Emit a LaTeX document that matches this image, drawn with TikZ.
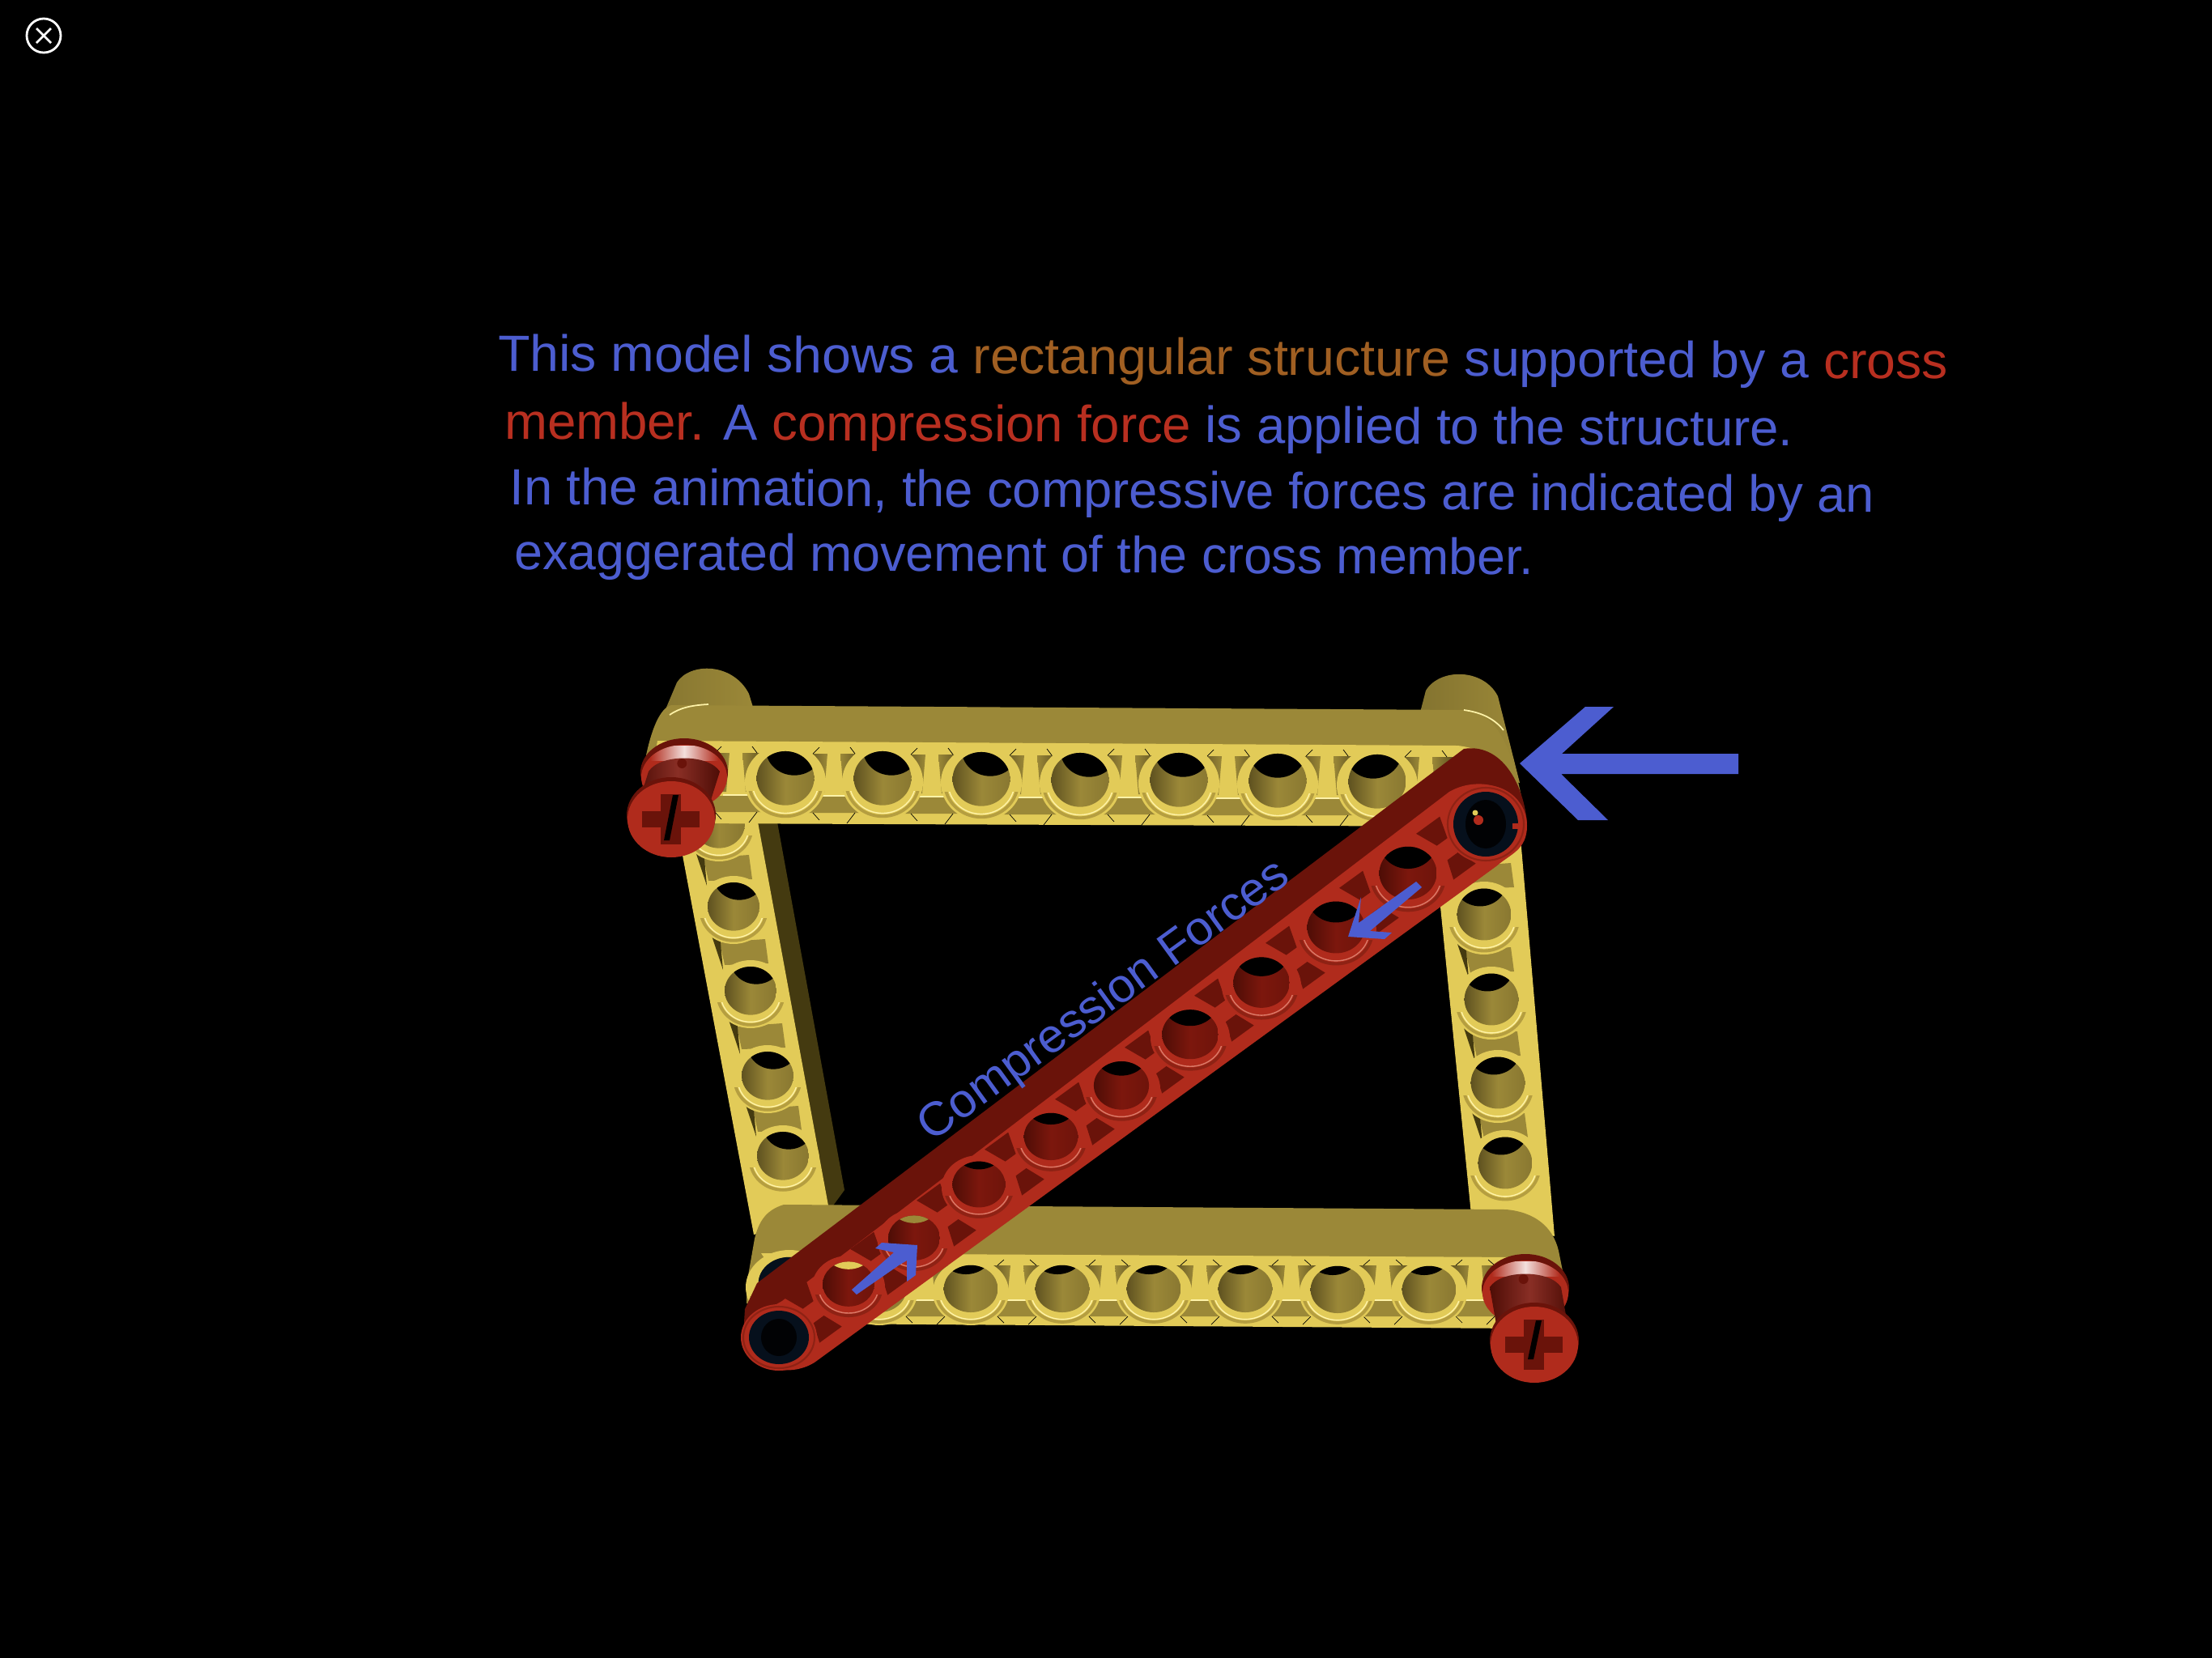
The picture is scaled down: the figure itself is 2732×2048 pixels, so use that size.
\documentclass[tikz,border=0pt]{standalone}
\usepackage{fontspec}
\usepackage{graphicx}
\setmainfont{Liberation Sans}
\usetikzlibrary{arrows.meta,positioning,calc}

\definecolor{textblue}{HTML}{4C5DD0}
\definecolor{textbrown}{HTML}{A05F22}
\definecolor{textred}{HTML}{B82F20}
\definecolor{yelrim}{HTML}{E2CB58}
\definecolor{yelwall}{HTML}{9B8838}
\definecolor{yeldeep}{HTML}{5F5220}
\definecolor{yelside}{HTML}{443A10}
\definecolor{yelgroove}{HTML}{B59E40}
\definecolor{yelglint}{HTML}{FFF3A8}
\definecolor{redrim}{HTML}{B02B1C}
\definecolor{redwall}{HTML}{7C170D}
\definecolor{reddeep}{HTML}{4E0D06}
\definecolor{redside}{HTML}{6A130A}
\definecolor{redgroove}{HTML}{8E2214}
\definecolor{redglint}{HTML}{DB7A68}
\definecolor{pinnavy}{HTML}{06101C}

\tikzset{
  captionline/.style={anchor=base west, inner sep=0pt, rotate=-0.32, font=\fontsize{17.9}{20}\selectfont},
  forcearrow/.style={fill=textblue},
  beamtick/.style={black, line width=.2pt},
}

\newcommand{\beamhole}[8]{%
  \fill[#8rim] (#1,#2) ellipse ({#3} and {#4});
  \begin{scope}
    \clip (#1-#3-2,#2+0.25*#4) rectangle (#1+#3+2,#2+#4+2);
    \draw[#8groove, line width=1.1pt] (#1,#2) ellipse ({0.9*#3} and {0.9*#4});
    \draw[#8glint, line width=.4pt] (#1,#2) ellipse ({0.82*#3} and {0.82*#4});
  \end{scope}
  \begin{scope}
    \clip (#1,#2-0.1*#4) ellipse ({0.71*#3} and {0.71*#4});
    \shade[left color=#8deep, right color=#8wall!70!#8deep, middle color=#8wall]
      (#1-0.71*#3,#2-#4) rectangle (#1+0.71*#3,#2+#4);
    \fill[#7] (#1+#5,#2-0.1*#4+#6) ellipse ({0.71*#3} and {0.71*#4});
  \end{scope}}

\begin{document}
\begin{tikzpicture}[x=0.01cm, y=-0.01cm]
  \useasboundingbox (0,0) rectangle (2732,2048);
  \fill[black] (0,0) rectangle (2732,2048);

  % close icon
  \draw[white, line width=0.8pt] (54,44) circle (21);
  \draw[white, line width=0.8pt] (45,35) -- (63,53) (63,35) -- (45,53);

  % side beams
  \fill[yelside] (930,1010) -- (959,1010) -- (1043,1470) -- (1021,1500) -- cycle;
  \fill[yelrim] (838,1030) -- (935,1010) -- (1025,1500) -- (931,1525) -- cycle;
  \fill[yelrim] (1767,1000) -- (1875,1000) -- (1920,1527) -- (1817,1500) -- cycle;
  \foreach \gx/\gy in {897/1072,917/1176,938/1280,958/1382,1838/1082,1838/1186,1846/1290,1855/1391}{
    \fill[yelwall] (\gx-28,\gy-12) -- (\gx+28,\gy-16) -- (\gx+32,\gy+14) -- (\gx-22,\gy+16) -- cycle;
    \fill[yelside] (\gx-38,\gy-20) -- (\gx-28,\gy-22) -- (\gx-24,\gy+22) -- cycle;
  }
  \foreach \hx/\hy/\dx in {888/1022/7,906/1124/7,927/1228/7,948/1333/7,967/1432/7}{
    \beamhole{\hx}{\hy}{45}{42}{\dx}{-38}{black}{yel}
  }
  \foreach \hx/\hy/\dx in {1833/1134/-5,1842/1239/-5,1850/1342/-5,1859/1441/-5}{
    \beamhole{\hx}{\hy}{47}{45}{\dx}{-42}{black}{yel}
  }

  % pegs behind the upper corners
  \shade[left color=yelwall!85!black, right color=yelwall] (798,933) -- (836,843)
    .. controls (852,818) and (905,818) .. (925,857) -- (932,880) -- (850,930) -- cycle;
  \shade[left color=yelwall!85!black, right color=yelwall] (1754,880) -- (1761,853)
    .. controls (1778,825) and (1832,825) .. (1850,860) -- (1877,967) -- (1800,950) -- cycle;

  % top beam
  \fill[yelwall] (829,871) -- (1808,877) .. controls (1848,880) and (1868,920) .. (1882,1000)
    -- (798,1000) -- (798,933) .. controls (805,900) and (815,875) .. (829,871) -- cycle;
  \fill[yelrim] (812,915) -- (1800,921) .. controls (1840,925) and (1870,950) .. (1880,1000)
    -- (1860,1021) -- (840,1017) -- (800,990) -- cycle;
  \draw[yelglint, line width=.5pt] (827,883) .. controls (840,874) and (855,871) .. (875,870);
  \draw[yelglint, line width=.5pt] (1808,877) .. controls (1830,880) and (1846,888) .. (1857,902);
  \foreach \hx/\hy in {909/966,1030/967,1151/968,1273/969,1394/969,1517/970,1639/970,1761/971}{
    \fill[yelwall] (\hx-44,\hy+17) -- (\hx+44,\hy+17) -- (\hx+38,\hy+37) -- (\hx-38,\hy+37) -- cycle;
    \draw[yelglint, line width=.5pt] (\hx-16,\hy+16) -- (\hx+16,\hy+16);
    \shade[left color=yeldeep, right color=yelwall] (\hx-34,\hy-36) -- (\hx-8,\hy-36) -- (\hx-12,\hy+12) -- (\hx-24,\hy+12) -- cycle;
    \shade[left color=yelwall, right color=yeldeep] (\hx+8,\hy-36) -- (\hx+34,\hy-36) -- (\hx+24,\hy+12) -- (\hx+12,\hy+12) -- cycle;
    \draw[beamtick] (\hx-26,\hy-36) -- (\hx-18,\hy-44) (\hx+20,\hy-44) -- (\hx+26,\hy-36);
    \draw[beamtick] (\hx-26,\hy+37) -- (\hx-18,\hy+46) (\hx+26,\hy+37) -- (\hx+16,\hy+50);
  }
  \foreach \hx/\hy/\dx in {970/966/11,1090/966/11,1212/967/11,1334/968/11,1456/968/5,1578/969/0,1701/970/-5}{
    \beamhole{\hx}{\hy}{50}{47}{\dx}{-37}{black}{yel}
  }

  % bottom beam
  \fill[yelwall] (968,1488) -- (1860,1494) .. controls (1895,1497) and (1918,1515) .. (1925,1545)
    -- (1934,1590) -- (1850,1610) -- (922,1610) -- (922,1587) -- (932,1530)
    .. controls (937,1510) and (945,1495) .. (968,1488) -- cycle;
  \fill[yelrim] (940,1548) -- (1880,1553) -- (1880,1641) -- (1000,1635) -- cycle;
  \foreach \hx in {1030,1143,1256,1369,1482,1595,1708,1822}{
    \fill[yelwall] (\hx-42,1607) -- (\hx+42,1607) -- (\hx+36,1626) -- (\hx-36,1626) -- cycle;
    \draw[yelglint, line width=.5pt] (\hx-16,1606) -- (\hx+16,1606);
    \shade[left color=yeldeep, right color=yelwall] (\hx-32,1563) -- (\hx-8,1563) -- (\hx-12,1606) -- (\hx-22,1606) -- cycle;
    \shade[left color=yelwall, right color=yeldeep] (\hx+8,1563) -- (\hx+32,1563) -- (\hx+22,1606) -- (\hx+12,1606) -- cycle;
    \draw[beamtick] (\hx-24,1563) -- (\hx-16,1556) (\hx+16,1556) -- (\hx+24,1563);
    \draw[beamtick] (\hx-24,1626) -- (\hx-16,1634) (\hx+24,1626) -- (\hx+14,1636);
  }
  \beamhole{975}{1590}{54}{46}{0}{0}{pinnavy}{yel}
  \foreach \hx/\hy in {1086/1596,1199/1596,1312/1596,1425/1596,1538/1596,1652/1597,1765/1597}{
    \beamhole{\hx}{\hy}{47}{41}{-6}{-47}{black}{yel}
  }

  % pins through the free corners
  \foreach \rx/\ry/\fx/\fy/\px/\py in {845/957/829/1012/-9/12,1884/1594/1895/1661/-8/4}{
    \fill[redside] (\rx,\ry-3) ellipse ({54} and {42});
    \fill[redrim] (\rx,\ry+3) ellipse ({53} and {40});
    \begin{scope}
      \clip (\rx,\ry+3) ellipse ({53} and {40});
      \shade[left color=redrim, right color=redrim, middle color=white!85!redrim]
        (\rx-42,\ry-36) rectangle (\rx+42,\ry-18);
    \end{scope}
    \shade[left color=reddeep, right color=reddeep, middle color=redwall!90!white]
      (\rx-44,\ry-4) .. controls (\rx-30,\ry-26) and (\rx+30,\ry-26) .. (\rx+44,\ry-4)
      -- (\fx+44,\fy-8) -- (\fx-44,\fy-8) -- cycle;
    \fill[redside] (\rx+\px*.3,\ry-14) circle (6);
    \fill[redside] (\fx,\fy-5) ellipse ({55} and {47});
    \fill[redrim] (\fx,\fy) ellipse ({54} and {47});
    \fill[redside] (\fx-36,\fy-10) rectangle (\fx+35,\fy+10);
    \fill[redside] (\fx-13,\fy-31) rectangle (\fx+12,\fy+31);
    \fill[black] (\fx+2,\fy-30) -- (\fx+9,\fy-30) -- (\fx+\px+7,\fy+\py+14) -- (\fx+\px,\fy+\py+14) -- cycle;
  }

  % cross member
  \fill[redside] (1808,925) .. controls (1850,918) and (1880,960) .. (1886,1015)
    -- (918,1650) -- (920,1617) -- (935,1585) -- cycle;
  \fill[redrim] (1790,978) .. controls (1830,955) and (1886,975) .. (1886,1020)
    .. controls (1886,1050) and (1865,1055) .. (1848,1070) -- (1010,1680)
    .. controls (985,1700) and (930,1700) .. (918,1650)
    .. controls (913,1630) and (935,1625) .. (966,1607) -- cycle;
  \foreach \gx/\gy in {1787/1048,1692/1115,1601/1183,1513/1248,1427/1312,1341/1376,1254/1438,1170/1501,1088/1561,1004/1620}{
    \begin{scope}[shift={(\gx,\gy)}, rotate=36]
      \fill[redside] (-20,-37) -- (16,-37) -- (8,-10) -- (-8,-10) -- cycle;
      \fill[redside] (-16,36) -- (18,36) -- (8,12) -- (-8,12) -- cycle;
    \end{scope}
  }
  \foreach \hx/\hy/\rw/\rh/\dy/\back in {1739/1083/50/46/-38/black,1650/1150/50/45/-38/black,1558/1218/49/44/-39/black,
      1470/1282/49/43/-41/black,1385/1345/48/42/-42/black,1298/1408/47/41/-44/black,1209/1467/46/40/-47/black,
      1129/1533/45/39/-46/yelwall,1048/1590/45/39/-46/yelrim}{
    \beamhole{\hx}{\hy}{\rw}{\rh}{0}{\dy}{\back}{red}
  }
  \foreach \hx/\hy/\rw/\rh in {1835/1018/50/48,962/1652/47/41}{
    \fill[redrim] (\hx,\hy) ellipse ({\rw} and {\rh});
    \draw[redgroove, line width=.6pt] (\hx,\hy) ellipse ({\rw-3} and {\rh-3});
    \fill[pinnavy] (\hx,\hy) ellipse ({\rw-10} and {\rh-8});
    \fill[black!85!pinnavy] (\hx,\hy) ellipse ({\rw-25} and {\rh-18});
  }
  \fill[redrim] (1826,1013) circle (6);
  \fill[yelrim] (1822,1004) circle (3.5);
  \fill[redrim] (1868,1017) rectangle (1875,1024);

  % force arrows
  \fill[forcearrow] (2147,931) -- (1929,931) -- (1993,873) -- (1958,873) -- (1877,943)
    -- (1949,1013) -- (1986,1013) -- (1928,956) -- (2147,956) -- cycle;
  \fill[forcearrow] (1749,1089) -- (1756,1096) -- (1692,1150) -- (1719,1152) -- (1710,1160)
    -- (1665,1157) -- (1681,1108) -- (1678,1140) -- cycle;
  \fill[forcearrow] (1052,1593) -- (1058,1599) -- (1110,1563) -- (1120,1557) -- (1120,1583)
    -- (1131,1575) -- (1133,1538) -- (1089,1535) -- (1081,1542) -- (1104,1547) -- cycle;

  % text
  \node[captionline] (lineone) at (615,458) {\resizebox{17.89cm}{\height}{\textcolor{textblue}{This model shows a} \textcolor{textbrown}{rectangular structure} \textcolor{textblue}{supported by a} \textcolor{textred}{cross}}};
  \node[captionline] (linetwo) at (623,542) {\resizebox{15.90cm}{\height}{\textcolor{textred}{member.} \textcolor{textblue}{A} \textcolor{textred}{compression force} \textcolor{textblue}{is applied to the structure.}}};
  \node[captionline] (linethree) at (629,623) {\resizebox{16.84cm}{\height}{\textcolor{textblue}{In the animation, the compressive forces are indicated by an}}};
  \node[captionline] (linefour) at (635,703) {\resizebox{12.58cm}{\height}{\textcolor{textblue}{exaggerated movement of the cross member.}}};
  \node[captionline, rotate=36.32] (forcelabel) at (1150,1412) {\resizebox{5.5cm}{0.93\height}{\textcolor{textblue}{Compression Forces}}};
\end{tikzpicture}
\end{document}
